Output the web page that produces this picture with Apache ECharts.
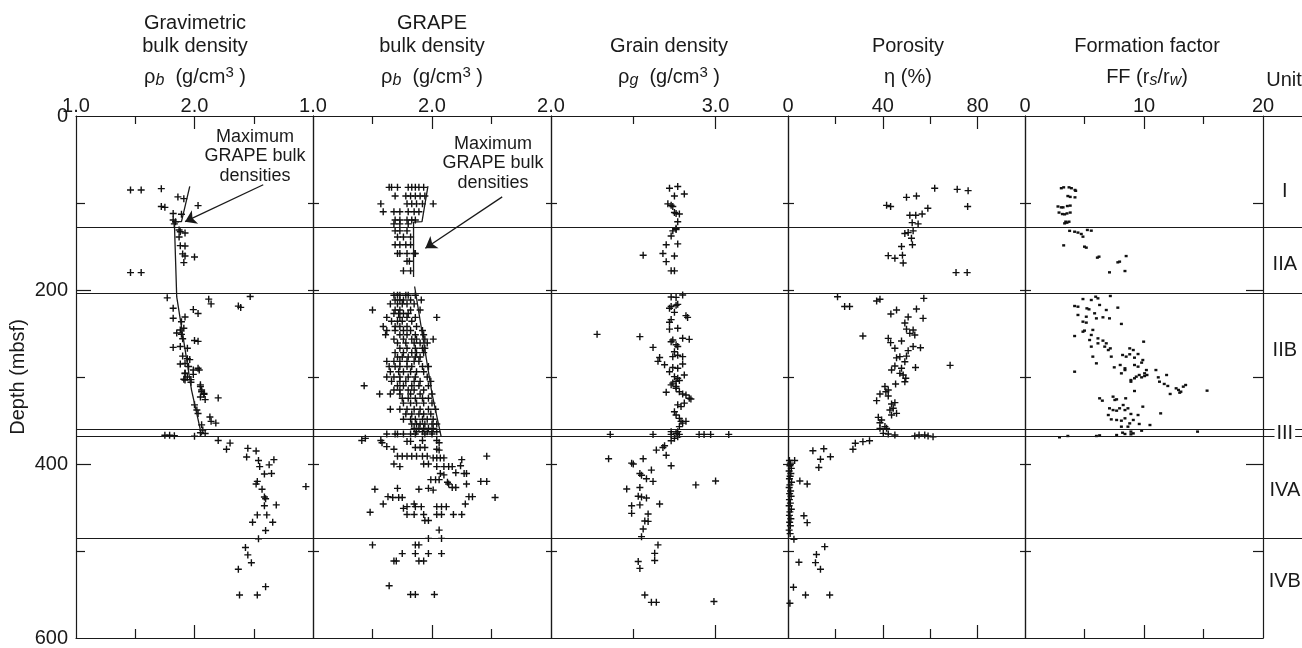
<!DOCTYPE html>
<html>
<head>
<meta charset="utf-8">
<script src="https://cdn.jsdelivr.net/npm/echarts@6/dist/echarts.min.js"></script>
<style>
  html, body { margin: 0; padding: 0; background: #fff; }
  #chart { width: 1302px; height: 648px; }
</style>
</head>
<body>
<div id="chart"></div>
<script>
// ---------------- Data (value, depth in mbsf) ----------------

// Gravimetric bulk density, g/cm3
const gravimetricDensity = [
  [1.46,85],[1.55,85],[1.72,83.5],[1.86,93],[1.91,95],[1.72,104],[1.75,105],[2.03,103],[1.82,112],[1.89,113],
  [1.82,119.5],[1.84,121.5],[1.83,124],[1.87,131],[1.88,133],[1.92,134.5],[1.87,139],[1.88,149],[1.92,149.5],
  [1.90,158.5],[1.92,161],[2.00,162],[1.91,168.5],[1.46,180],[1.55,180],
  [1.77,209],[2.12,210.5],[2.14,216],[2.37,218.5],[2.39,220],[2.47,207.5],[1.82,221],[1.99,222.5],[2.03,227],
  [1.82,232.5],[1.89,236.5],[1.92,231],[1.88,246],[1.91,244],[1.85,249.5],[1.89,251],[1.90,256],[2.00,258],
  [2.03,259],[1.82,266],[1.88,265],[1.94,267],[1.90,276],[1.94,279],[1.96,280],[1.92,284.5],[1.95,288],
  [1.99,292],[2.04,292],[1.92,296],[1.94,300],[1.91,302.5],[1.97,303],[2.05,309],[2.06,315],[2.08,319],[2.20,324],
  [1.88,285],[2.03,290],[1.92,295.5],[1.99,297],[1.92,303.5],[1.97,306],[2.05,311],[2.06,317],[2.08,320],
  [2.05,323],[2.09,326],[2.00,332],[2.02,338],[2.03,342],[2.13,346],[2.14,351],[2.18,353],[2.06,355],[2.07,361],
  [2.05,364],[2.09,365],[1.75,367],[1.79,367],[1.83,367.5],[2.00,368],
  [2.20,373],[2.30,376],[2.27,383],[2.45,382],[2.52,385],[2.44,392],[2.54,396],[2.67,395],[2.55,403],[2.63,401],
  [2.59,411.5],[2.65,411],[2.53,420],[2.52,423],[2.94,426],[2.57,429],[2.59,438],[2.60,440],[2.69,447],[2.59,448],
  [2.53,458.5],[2.61,458.5],[2.49,467],[2.66,467],[2.60,476.5],[2.54,486],[2.43,496],[2.45,504.5],[2.48,513.5],
  [2.37,521],[2.60,541],[2.38,550.5],[2.53,550.5]
];

// Trend of maximum GRAPE bulk densities, overlaid on the gravimetric log
const gravimetricMaxTrend = [[1.96,81],[1.89,121.5],[1.83,121.5],[1.85,208],[1.975,315],[2.06,367]];

// GRAPE bulk density, g/cm3: [depth, values measured at that depth]
const grapeRows = [
  [82,[1.64,1.66,1.71,1.80,1.83,1.86,1.89,1.93]],
  [92,[1.69,1.78,1.82,1.86,1.90,1.94]],
  [101,[1.57,1.79,1.83,1.87,1.92,2.01]],
  [110,[1.59,1.68,1.73,1.80,1.85,1.89]],
  [119.5,[1.69,1.73,1.79,1.83,1.86]],
  [124,[1.68,1.73,1.80]],
  [132,[1.69,1.73,1.79]],
  [139,[1.71,1.76,1.82]],
  [148,[1.69,1.73,1.78,1.82]],
  [158,[1.71,1.73,1.79,1.85,1.86]],
  [167,[1.79,1.81]],
  [178,[1.76,1.82]],
  [206,[1.68,1.71,1.73,1.78,1.80,1.86]],
  [211.5,[1.69,1.73,1.76,1.82,1.91]],
  [216,[1.65,1.71,1.75,1.79,1.85]],
  [223,[1.50,1.69,1.73,1.82,1.90]],
  [227,[1.68,1.72,1.76,1.80]],
  [231.5,[1.62,1.73,1.79,1.86,2.04]],
  [236,[1.66,1.71,1.75,1.83]],
  [242,[1.59,1.69,1.73,1.79,1.87]],
  [246.5,[1.62,1.69,1.76,1.82,1.92]],
  [251.5,[1.61,1.73,1.79,1.86,1.93]],
  [256.5,[1.68,1.76,1.83,1.87,1.94,2.01]],
  [261,[1.71,1.78,1.85,1.90,1.96]],
  [267,[1.73,1.79,1.86,1.92,1.94]],
  [272,[1.69,1.76,1.83,1.87,1.93]],
  [277,[1.71,1.75,1.80,1.86,1.90]],
  [282,[1.62,1.68,1.73,1.79,1.85,1.89]],
  [288,[1.64,1.69,1.73,1.79,1.83,1.92,1.97]],
  [294,[1.65,1.72,1.76,1.82,1.87,1.93]],
  [300,[1.62,1.68,1.73,1.80,1.86,1.96]],
  [305,[1.66,1.73,1.78,1.85,1.90,1.99]],
  [310,[1.43,1.71,1.76,1.83,1.89,1.97]],
  [315,[1.68,1.73,1.80,1.85,1.93]],
  [319.5,[1.56,1.65,1.73,1.82,1.90,2.00]],
  [324.5,[1.75,1.80,1.86,1.92,1.97]],
  [330,[1.76,1.82,1.87,1.93,2.00]],
  [337,[1.65,1.73,1.79,1.85,1.90,1.97,2.03]],
  [342.5,[1.78,1.83,1.89,1.93,1.99]],
  [348.5,[1.76,1.82,1.86,1.92,1.96,2.01]],
  [354,[1.83,1.87,1.90,1.94,2.00,2.04]],
  [359,[1.85,1.89,1.93,1.97,2.01]],
  [363,[1.87,1.92,1.96,2.00,2.04]],
  [365.5,[1.62,1.69,1.71,1.76,1.82,1.86,1.94,2.00]],
  [370.5,[1.44]],[373,[1.41,1.57,1.92,2.04]],[374,[1.79,1.82]],[375.5,[1.58,2.06]],[380,[1.62]],
  [381,[1.86,1.90,1.94]],[383,[1.68,2.04]],[384,[2.06]],
  [391,[1.71,1.75,1.79,1.83,1.87,1.92,1.96,2.46]],[393,[2.01,2.04,2.07,2.10]],[395,[2.25]],
  [400,[1.68,1.93,1.97]],[402,[2.24]],[403,[1.73,2.04,2.10,2.14,2.17]],
  [410,[2.20]],[411,[2.07,2.27,2.29]],[412.5,[2.10]],
  [418,[1.99,2.03,2.06]],[420,[2.41,2.46]],[421,[2.13]],[423,[2.14,2.29]],[427,[2.17,2.20]],
  [428,[1.71,1.97]],[429,[1.52,1.89]],[430,[2.01]],
  [437.5,[1.63,2.31,2.34]],[438.5,[1.67,1.72,1.75,2.53]],
  [446,[1.59,1.85,2.28]],[449,[1.79,1.86,1.91,2.04,2.08,2.12]],[451,[1.76]],
  [455.5,[1.48]],[458,[1.79,1.85,1.93,2.04,2.08,2.18,2.25]],
  [465,[1.94,1.97]],[476,[2.06]],[485.5,[1.97,2.08]],
  [493,[1.50,1.86,1.89]],[503,[1.75,1.86,1.97,2.08]],[511.5,[1.68,1.70,1.89,1.93]],
  [540,[1.64]],[550,[1.82,1.86,2.02]]
];

// Maximum GRAPE bulk density trend (two segments, gap across the unit IIA/IIB break)
const grapeMaxUpper = [[1.966,80.5],[1.916,121.5],[1.845,122],[1.845,185]];
const grapeMaxLower = [[1.854,196],[2.0,319],[2.076,368]];

// Grain density, g/cm3
const grainDensity = [
  [2.72,83],[2.77,81],[2.75,92],[2.81,89.7],[2.71,101],[2.73,102.5],[2.74,104],[2.75,111],[2.76,112],[2.78,112.6],
  [2.77,121.5],[2.76,129],[2.76,130.5],[2.74,132],[2.73,138],[2.70,148],[2.77,147],[2.56,160],[2.68,158],[2.75,161],
  [2.70,167.4],[2.73,178],[2.75,178],
  [2.80,205.7],[2.73,208],[2.76,208.5],[2.73,219],[2.76,217.5],[2.77,216.5],[2.72,221],[2.75,225.7],[2.82,229.5],
  [2.83,231.5],[2.73,234],[2.72,237],[2.28,251],[2.54,253.6],[2.72,245],[2.77,244],[2.80,255.5],[2.84,256.7],
  [2.74,257.5],[2.73,259.4],[2.76,263],[2.77,265],[2.62,266],[2.75,271],[2.77,275],[2.74,276.6],[2.80,276.6],
  [2.66,277.6],[2.65,282],[2.80,285],[2.69,286],[2.74,289],[2.77,290],[2.81,297.7],[2.72,294],[2.75,299.6],
  [2.77,301.5],[2.76,305],[2.74,307],[2.78,304],[2.73,309],[2.76,311],[2.70,317.6],[2.76,313],[2.78,317],
  [2.80,319.5],[2.82,320.7],[2.84,324.5],[2.85,325.3],[2.77,332],[2.79,334],[2.81,330],[2.75,340],[2.76,343.7],
  [2.78,347.5],[2.79,351],[2.80,353],[2.82,351],[2.78,357],[2.77,362.8],[2.76,364.7],[2.73,362.8],
  [2.36,366],[2.62,366],[2.73,366],[2.78,366],[2.90,366],[2.93,366],[2.97,366],[3.08,366],
  [2.75,370.5],[2.77,368.6],[2.73,373.2],
  [2.69,379],[2.68,381],[2.64,384],[2.70,390],[2.35,394],[2.56,394],[2.49,399],[2.50,400],[2.73,402],[2.54,411],
  [2.55,413],[2.61,407],[2.62,420],[2.58,417],[2.88,424],[3.00,419.5],[2.46,428.7],[2.54,427],[2.53,437],
  [2.55,438],[2.58,439],[2.66,446],[2.49,448],[2.54,447],[2.49,456.7],[2.59,457.5],[2.57,465.5],[2.59,466],
  [2.56,474.7],[2.55,483.5],
  [2.65,493],[2.63,502.7],[2.63,511],[2.53,512],[2.54,520],[2.57,550.6],[2.61,559],[2.64,559],[2.99,558]
];

// Porosity, %
const porosity = [
  [61.9,83],[71.4,84.3],[76.0,85.8],[50.0,93.5],[54.2,92],[41.6,102.7],[43.3,104],[75.8,104],[59.0,106],
  [51.4,114],[53.9,114],[56.6,112.6],[52.4,122.6],[54.9,124],[49.3,135],[50.7,134],[52.8,132],[52.1,140.6],
  [52.5,148],[47.9,150],[42.3,160.5],[45.1,163.5],[48.3,160],[48.6,169],[70.9,180],[75.6,180],
  [20.9,207.7],[57.3,209.6],[37.4,212.6],[38.8,210.7],[23.9,219],[26.0,219],[43.4,227.6],[45.8,223],[54.2,221.8],
  [57.0,232.6],[49.3,238],[50.7,231],[50.0,245],[51.4,249.8],[52.8,246],[53.5,251.7],[31.6,252.9],[42.3,255.6],
  [43.3,260.5],[47.9,258.6],[45.1,267],[55.9,266.3],[52.8,265],[50.7,269.7],[45.8,278],[47.2,276.6],[49.3,282.4],
  [50.0,276],[68.4,286.6],[53.8,289],[43.7,292],[45.1,287.4],[47.9,290],[47.2,295.8],[48.6,297.7],[49.7,301.5],
  [49.3,305.4],[45.4,308],[40.9,311],[42.3,315],[37.4,327.2],[38.8,319.5],[41.3,316.9],[42.3,321.8],[43.7,331],
  [45.1,329.5],[43.0,338],[44.4,336],[43.7,343.7],[45.8,341.8],[38.1,346.4],[38.8,352.5],[39.5,349.4],[40.9,357],
  [41.6,359],[38.8,359],[40.2,364.8],[42.3,365.5],[45.1,366.7],[53.5,367.8],[55.3,366.7],[57.7,366.7],[59.1,367.8],
  [61.2,368.6],
  [34.4,373.2],[31.6,374.3],[28.4,376.2],[27.4,383],[15.1,382.4],[10.5,384.7],[17.9,391.6],[13.7,394.6],[13.0,404],
  [2.8,396],[5.0,419.5],[8.1,423],[6.7,459.4],[8.1,467.4],
  [0.6,396],[1.0,399],[0.8,402],[1.4,405],[0.5,408],[1.2,411],[0.9,414],[0.6,417],[1.5,421],[0.8,424],[0.5,427],
  [1.1,431],[0.7,434],[1.3,437],[0.6,441],[1.0,445],[0.5,448],[1.4,452],[0.8,455],[0.6,459],[1.2,463],[0.7,467],
  [1.0,471],[0.5,476],[0.9,480],
  [2.5,486.6],[15.5,495],[12.0,504],[11.6,513.4],[4.6,513],[13.7,521],[2.3,541.7],[7.4,550.6],[17.6,550.6],[0.8,560]
];

// Formation factor FF (rs/rw)
const formationFactor = [
  [3.05,83],[3.25,82],[3.7,82],[3.9,83],[4.2,85],[4.26,86],[3.6,92],[3.8,93],[4.2,93.5],[2.77,104],[3.05,105],
  [3.2,105],[3.56,103.5],[3.8,103],[2.86,111],[3.14,112.7],[3.33,113],[3.53,112],[3.8,111],[3.42,121.5],
  [3.53,122.6],[3.7,121.5],[3.33,123.4],
  [3.75,132],[4.17,133],[4.45,134],[4.73,135.6],[4.87,138.7],[5.24,131],[5.57,131.8],[3.25,148.7],[5.0,150.2],
  [5.15,151.3],[6.08,162.8],[6.22,161.7],[8.5,161],[7.8,168.2],[7.95,167.4],[7.1,179.7],[8.4,178.2],
  [4.87,210.4],[5.57,211.5],[5.94,207.7],[6.13,209.6],[7.17,206.9],[4.17,218.4],[4.45,219.2],[5.2,221.1],
  [5.38,222.2],[6.27,217.2],[6.83,223],[7.8,220.3],[4.45,228.7],[5.15,230.7],[5.85,226.8],[6.0,232.6],[6.55,231.4],
  [7.1,232.6],[8.1,239],[4.87,236.4],[5.15,237.5],[4.17,252.9],[4.87,247.9],[5.0,246.7],[5.57,251.7],[5.7,245.9],
  [6.13,255.6],[6.55,258.2],[6.83,261.3],[6.7,265.1],[7.0,269],[5.43,257.5],[5.57,265.1],[6.13,261.3],[7.17,267.1],
  [5.7,276.6],[6.0,284.3],[7.25,276.6],[8.2,274.7],[8.5,276.6],[8.8,273.9],[9.97,259.4],[8.8,267.1],[9.1,269],
  [9.5,273.6],[9.2,277.8],[8.0,286.2],[8.4,290],[7.5,288.9],[8.1,295.8],[8.4,292],[4.17,293.9],[9.2,286.2],
  [9.5,288.1],[9.8,283.5],[9.9,280.5],[10.2,292],[9.6,297.7],[10.05,295.8],[8.9,303.5],[9.2,301.5],[9.35,299.6],
  [9.8,300.4],[10.05,298.9],[8.9,305.4],[10.25,297.7],[11.0,292],[11.9,297.7],[11.2,300.4],[11.3,305.4],[11.7,308],
  [12.0,310.3],[12.2,319.5],[12.7,313],[12.9,314.9],[13.1,316.9],[13.3,311.1],[13.0,318],[13.5,309.2],[15.3,315.7],
  [9.2,316.1],[6.27,324.5],[6.5,327.2],[7.4,322.6],[7.55,326.4],[7.7,325.7],[8.46,324.5],[7.1,336],[7.4,338],
  [7.7,338.7],[7.95,336],[8.25,332.2],[8.4,338],[8.65,336],[9.9,334.1],[7.0,343.7],[7.25,348.7],[7.7,349.4],
  [8.1,350.2],[8.4,347.5],[8.9,342.5],[9.5,343.7],[11.4,341.8],[8.8,353.3],[9.6,354],[10.5,355.2],[9.1,349.4],
  [8.1,357.1],[8.65,357.1],[9.8,361.7],[8.2,364],[8.9,362.8],[9.1,364.8],[14.5,362.8],[2.9,369.3],[3.6,367.8],
  [6.0,367.8],[6.27,367.1],[7.7,366.7],[8.4,365.5],[8.9,365.9]
];

// Lithologic units
const unitNames = ['I', 'IIA', 'IIB', 'III', 'IVA', 'IVB'];
const unitLabelDepths = [87, 171, 269, 365, 430, 535];
const unitBoundaries = [128, 204, 360, 368, 485];

// Tick values
const bulkLabels = [1, 2], bulkMajor = [2], bulkMinor = [1.5, 2.5];
const grainLabels = [2, 3], grainMajor = [3], grainMinor = [2.5];
const porosityLabels = [0, 40, 80], porosityMajor = [40, 80], porosityMinor = [20, 60];
const ffLabels = [0, 10, 20], ffMajor = [10], ffMinor = [5, 15];
const depthLabels = [0, 200, 400, 600], depthMajor = [200, 400], depthMinor = [100, 300, 500];
const depthAll = [100, 200, 300, 400, 500];

// ---------------- Layout & styling ----------------
const INK = '#1a1a1a';
const FONT = '"Liberation Sans", Arial, Helvetica, sans-serif';
const PLOT_TOP = 116, PLOT_H = 522;
const ls = { color: INK, width: 1.2 };
const PLUS = 'path://M-1,-0.2H-0.2V-1H0.2V-0.2H1V0.2H0.2V1H-0.2V0.2H-1Z';

const fixed1 = v => Number(v).toFixed(1);
const plain = v => String(Math.round(v));

const panels = [
  { left: 76,   width: 237, min: 1, max: 3,    labels: bulkLabels,     major: bulkMajor,     minor: bulkMinor,     fmt: fixed1 },
  { left: 313,  width: 238, min: 1, max: 3,    labels: bulkLabels,     major: bulkMajor,     minor: bulkMinor,     fmt: fixed1 },
  { left: 551,  width: 237, min: 2, max: 3.44, labels: grainLabels,    major: grainMajor,    minor: grainMinor,    fmt: fixed1 },
  { left: 788,  width: 237, min: 0, max: 100,  labels: porosityLabels, major: porosityMajor, minor: porosityMinor, fmt: plain },
  { left: 1025, width: 238, min: 0, max: 20,   labels: ffLabels,       major: ffMajor,       minor: ffMinor,       fmt: plain }
];

const grids = [], xAxes = [], yAxes = [], series = [];
const mainX = [], mainY = [];

panels.forEach((p, i) => {
  grids.push({ left: p.left, top: PLOT_TOP, width: p.width, height: PLOT_H, containLabel: false, outerBoundsMode: 'none' });
  const xb = { type: 'value', gridIndex: i, min: p.min, max: p.max, splitLine: { show: false } };
  mainX.push(xAxes.length);
  xAxes.push(Object.assign({}, xb, {
    position: 'top',
    axisLine: { show: true, onZero: false, lineStyle: ls },
    axisTick: { show: true, inside: true, length: 13, customValues: p.major, lineStyle: ls },
    axisLabel: { show: true, customValues: p.labels, formatter: p.fmt, margin: 0, fontSize: 20,
                 fontFamily: FONT, color: INK, showMinLabel: true, showMaxLabel: true, hideOverlap: false }
  }));
  xAxes.push(Object.assign({}, xb, {
    position: 'top',
    axisLine: { show: false, onZero: false },
    axisTick: { show: true, inside: true, length: 8, customValues: p.minor, lineStyle: ls },
    axisLabel: { show: false }
  }));
  xAxes.push(Object.assign({}, xb, {
    position: 'bottom',
    axisLine: { show: true, onZero: false, lineStyle: ls },
    axisTick: { show: true, inside: true, length: 13, customValues: p.major, lineStyle: ls },
    axisLabel: { show: false }
  }));
  xAxes.push(Object.assign({}, xb, {
    position: 'bottom',
    axisLine: { show: false, onZero: false },
    axisTick: { show: true, inside: true, length: 9, customValues: p.minor, lineStyle: ls },
    axisLabel: { show: false }
  }));

  const yb = { type: 'value', gridIndex: i, min: 0, max: 600, inverse: true, splitLine: { show: false } };
  mainY.push(yAxes.length);
  if (i === 0) {
    yAxes.push(Object.assign({}, yb, {
      position: 'left',
      axisLine: { show: true, onZero: false, lineStyle: ls },
      axisTick: { show: true, inside: true, length: 15, customValues: depthMajor, lineStyle: ls },
      axisLabel: { show: true, customValues: depthLabels, margin: 8, fontSize: 20, fontFamily: FONT, color: INK,
                   showMinLabel: true, showMaxLabel: true },
      name: 'Depth (mbsf)', nameLocation: 'middle', nameGap: 48,
      nameTextStyle: { fontSize: 20, fontFamily: FONT, color: INK }
    }));
    yAxes.push(Object.assign({}, yb, {
      position: 'left',
      axisLine: { show: false, onZero: false },
      axisTick: { show: true, inside: true, length: 9, customValues: depthMinor, lineStyle: ls },
      axisLabel: { show: false }
    }));
  } else {
    yAxes.push(Object.assign({}, yb, {
      position: 'left',
      axisLine: { show: true, onZero: false, lineStyle: ls },
      axisTick: { show: true, inside: true, length: 6, customValues: depthAll, lineStyle: ls },
      axisLabel: { show: false }
    }));
  }
  if (i === 4) {
    yAxes.push(Object.assign({}, yb, {
      position: 'right',
      axisLine: { show: true, onZero: false, lineStyle: ls },
      axisTick: { show: true, inside: true, length: 17, customValues: depthMajor, lineStyle: ls },
      axisLabel: { show: false }
    }));
    yAxes.push(Object.assign({}, yb, {
      position: 'right',
      axisLine: { show: false, onZero: false },
      axisTick: { show: true, inside: true, length: 10, customValues: depthMinor, lineStyle: ls },
      axisLabel: { show: false }
    }));
  } else {
    yAxes.push(Object.assign({}, yb, {
      position: 'right',
      axisLine: { show: true, onZero: false, lineStyle: ls },
      axisTick: { show: true, inside: true, length: 5, customValues: depthAll, lineStyle: ls },
      axisLabel: { show: false }
    }));
  }
});

// Unit column to the right of the last panel
const UNIT_GRID = grids.length;
grids.push({ left: 1263, top: PLOT_TOP, width: 39, height: PLOT_H, containLabel: false, outerBoundsMode: 'none' });
const unitX = xAxes.length;
xAxes.push({ type: 'value', gridIndex: UNIT_GRID, min: 0, max: 1, position: 'top',
  axisLine: { show: true, onZero: false, lineStyle: ls }, axisTick: { show: false }, axisLabel: { show: false },
  splitLine: { show: false } });
const unitY = yAxes.length;
yAxes.push({ type: 'value', gridIndex: UNIT_GRID, min: 0, max: 600, inverse: true, show: false });

const boundaryMarks = {
  silent: true, symbol: ['none', 'none'], animation: false,
  label: { show: false },
  lineStyle: { color: INK, width: 1, type: 'solid', opacity: 1 },
  data: unitBoundaries.map(d => ({ yAxis: d }))
};

function plusSeries(i, data) {
  return {
    type: 'scatter', xAxisIndex: mainX[i], yAxisIndex: mainY[i], data: data,
    symbol: PLUS, symbolSize: 7, itemStyle: { color: '#111', opacity: 1 }, silent: true,
    markLine: boundaryMarks, z: 3
  };
}

const grapeDensity = [];
grapeRows.forEach(([d, vals]) => vals.forEach(v => grapeDensity.push([v, d])));

series.push(plusSeries(0, gravimetricDensity));
series.push(plusSeries(1, grapeDensity));
series.push(plusSeries(2, grainDensity));
series.push(plusSeries(3, porosity));
series.push({
  type: 'scatter', xAxisIndex: mainX[4], yAxisIndex: mainY[4], data: formationFactor,
  symbol: 'rect', symbolSize: [3, 2.4], itemStyle: { color: '#111', opacity: 1 }, silent: true,
  markLine: boundaryMarks, z: 3
});

const arrowStyle = {
  silent: true, symbol: ['none', 'arrow'], symbolSize: 11, animation: false,
  label: { show: false }, lineStyle: { color: INK, width: 1.3, type: 'solid', opacity: 1 }
};

const trendLine = (i, data, arrow) => ({
  type: 'line', xAxisIndex: mainX[i], yAxisIndex: mainY[i], data: data,
  showSymbol: false, symbol: 'none', silent: true, z: 4,
  lineStyle: { color: INK, width: 1.3 },
  markLine: arrow ? Object.assign({}, arrowStyle, { data: [arrow] }) : undefined
});

series.push(trendLine(0, gravimetricMaxTrend, [{ coord: [2.58, 79] }, { coord: [1.92, 121.5] }]));
series.push(trendLine(1, grapeMaxUpper, [{ coord: [2.59, 93] }, { coord: [1.944, 152] }]));
series.push(trendLine(1, grapeMaxLower, null));

// Unit boundaries continue through the unit column; labels sit on top
series.push({
  type: 'scatter', xAxisIndex: unitX, yAxisIndex: unitY, data: [[0.5, -50]],
  symbolSize: 0, silent: true, markLine: boundaryMarks, z: 2
});
series.push({
  type: 'scatter', xAxisIndex: unitX, yAxisIndex: unitY, silent: true, z: 10,
  symbolSize: 0, itemStyle: { opacity: 1 },
  data: unitNames.map((n, k) => ({ value: [0.56, unitLabelDepths[k]], name: n })),
  label: { show: true, position: 'inside', formatter: p => p.name, fontSize: 20, fontFamily: FONT,
           color: INK, opacity: 1, backgroundColor: '#fff', padding: [0, 2] }
});

// ---------------- Column headings ----------------
const rich = {
  s: { fontSize: 16, fontStyle: 'italic', fontFamily: FONT, fill: INK, lineHeight: 14, verticalAlign: 'bottom' },
  p: { fontSize: 15, fontFamily: FONT, fill: INK, lineHeight: 12, verticalAlign: 'top' }
};
const headings = [
  { x: 195,  lines: ['Gravimetric', 'bulk density', 'ρ{s|b}  (g/cm{p|3} )'] },
  { x: 432,  lines: ['GRAPE', 'bulk density', 'ρ{s|b}  (g/cm{p|3} )'] },
  { x: 669,  lines: [null, 'Grain density', 'ρ{s|g}  (g/cm{p|3} )'] },
  { x: 908,  lines: [null, 'Porosity', 'η (%)'] },
  { x: 1147, lines: [null, 'Formation factor', 'FF (r{s|s}/r{s|w})'] }
];
const lineY = [23, 46, 77];
const graphics = [];
headings.forEach(h => h.lines.forEach((t, k) => {
  if (!t) return;
  graphics.push({
    type: 'text', x: h.x, y: lineY[k], silent: true,
    style: { text: t, fontSize: 20, fontFamily: FONT, fill: INK, align: 'center', verticalAlign: 'middle',
             lineHeight: 24, rich: rich }
  });
}));
graphics.push({ type: 'text', x: 1284, y: 80, silent: true,
  style: { text: 'Unit', fontSize: 20, fontFamily: FONT, fill: INK, align: 'center', verticalAlign: 'middle' } });

// Annotation text for the maximum-density trend lines
[[255, 127], [493, 134]].forEach(([x, y]) => graphics.push({
  type: 'text', x: x, y: y, silent: true,
  style: { text: 'Maximum\nGRAPE bulk\ndensities', fontSize: 18, fontFamily: FONT, fill: INK,
           align: 'center', verticalAlign: 'top', lineHeight: 19.5 }
}));

const chart = echarts.init(document.getElementById('chart'), null, { renderer: 'canvas' });
chart.setOption({
  backgroundColor: '#fff',
  animation: false,
  grid: grids,
  xAxis: xAxes,
  yAxis: yAxes,
  series: series,
  graphic: graphics
});
</script>
</body>
</html>
